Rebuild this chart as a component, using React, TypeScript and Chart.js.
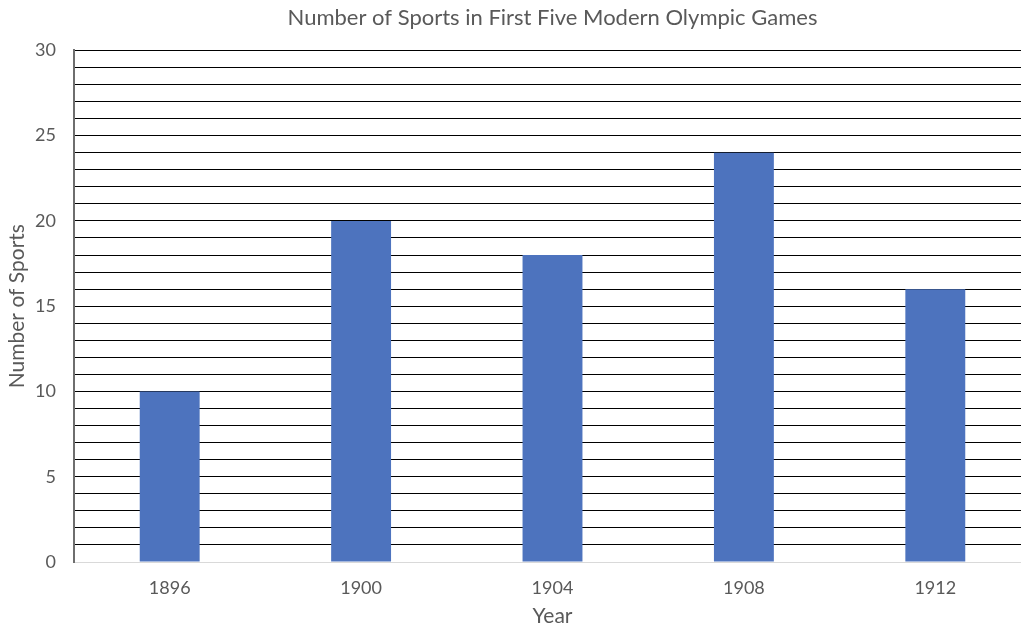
import React, { useEffect, useRef } from "react";
import { Chart, registerables } from "chart.js";

Chart.register(...registerables);

const years = ["1896", "1900", "1904", "1908", "1912"];
const sportsCount = [10, 20, 18, 24, 16];
const yMin = 0;
const yMax = 30;
const yLabelStep = 5;

const TEXT = "#595959";
const FONT = "Lato, 'Open Sans', sans-serif";

export default function App() {
  const ref = useRef<HTMLCanvasElement | null>(null);

  useEffect(() => {
    if (!ref.current) return;
    const chart = new Chart(ref.current, {
      type: "bar",
      data: {
        labels: years,
        datasets: [
          {
            label: "Number of Sports",
            data: sportsCount,
            backgroundColor: "#4D73BE",
            borderWidth: 0,
            barPercentage: 1,
            categoryPercentage: 0.313,
          },
        ],
      },
      options: {
        responsive: false,
        animation: false,
        layout: { padding: { left: 0, right: 1, top: 0, bottom: 0 } },
        plugins: {
          legend: { display: false },
          tooltip: { enabled: false },
          title: {
            display: true,
            text: "Number of Sports in First Five Modern Olympic Games",
            color: TEXT,
            fullSize: false,
            font: { family: FONT, size: 22, weight: "normal", lineHeight: 1.2 },
            padding: { top: 5, bottom: 19 },
          },
        },
        scales: {
          x: {
            grid: { display: false, drawTicks: false },
            border: { display: true, color: "#d9d9d9", width: 1 },
            ticks: {
              color: TEXT,
              font: { family: FONT, size: 18 },
              padding: 15,
            },
            title: {
              display: true,
              text: "Year",
              color: TEXT,
              font: { family: FONT, size: 21, lineHeight: 1 },
              padding: { top: 0, bottom: 0 },
            },
            afterFit: (scale: any) => {
              scale.height = 65;
            },
          },
          y: {
            min: yMin,
            max: yMax,
            grid: {
              drawTicks: false,
              color: (ctx: any) =>
                ctx.tick && ctx.tick.value === 0 ? "#d9d9d9" : "#000000",
              lineWidth: 1,
            },
            border: { display: true, color: "#6e6e6e", width: 2 },
            ticks: {
              stepSize: 1,
              autoSkip: false,
              color: TEXT,
              font: { family: FONT, size: 18 },
              padding: 18,
              callback: (v: any) => (Number(v) % yLabelStep === 0 ? String(v) : ""),
            },
            title: {
              display: true,
              text: "Number of Sports",
              color: TEXT,
              font: { family: FONT, size: 21, lineHeight: 1 },
              padding: { top: 7, bottom: 0 },
            },
            afterFit: (scale: any) => {
              scale.width = 74;
            },
          },
        },
      },
    });
    return () => chart.destroy();
  }, []);

  return (
    <div
      style={{
        position: "fixed",
        left: 0,
        top: 0,
        width: 1021,
        height: 627,
        overflow: "hidden",
        background: "#ffffff",
      }}
    >
      <canvas ref={ref} width={1032} height={627} style={{ display: "block" }} />
    </div>
  );
}
